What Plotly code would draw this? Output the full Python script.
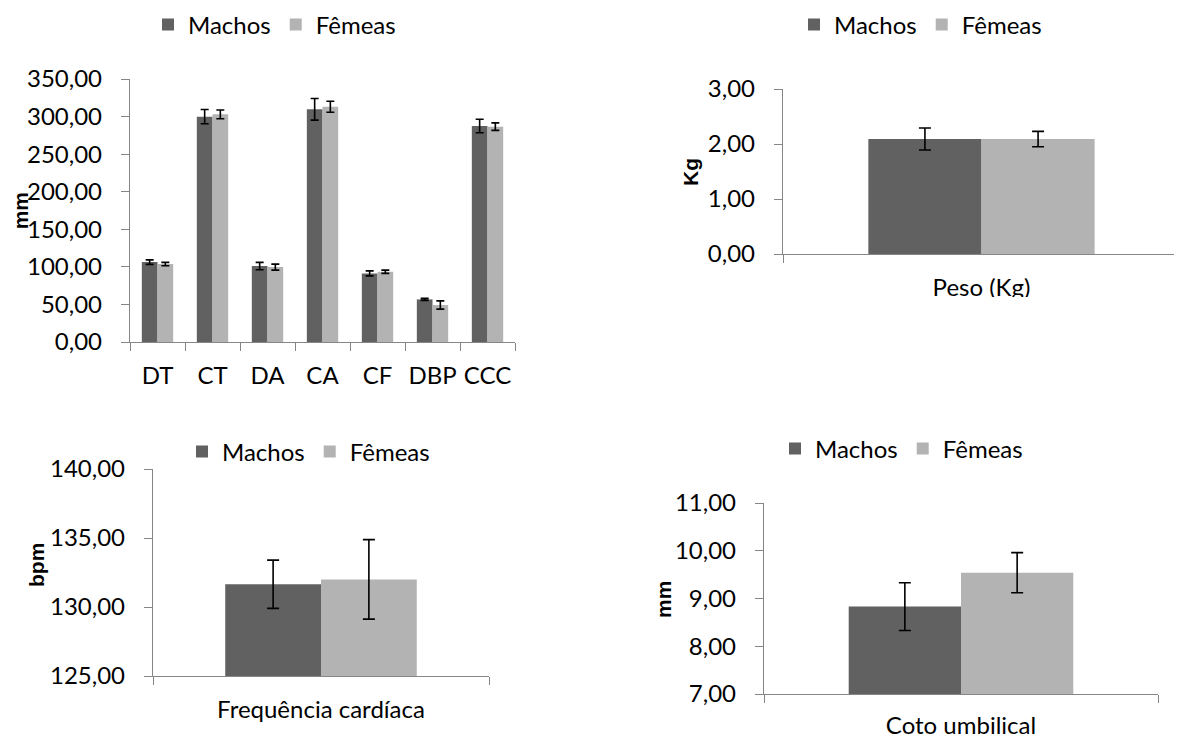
import plotly.graph_objects as go

# page body adds an 8px margin, so the figure is sized/placed to compensate
OFF = 8
W, H = 1182 - OFF, 739 - OFF

# ---------------- data ----------------
morph_cats = ["DT", "CT", "DA", "CA", "CF", "DBP", "CCC"]
morph_machos = [106.3, 299.9, 101.0, 309.7, 91.3, 56.7, 287.5]
morph_machos_err = [3.0, 9.5, 4.9, 14.4, 3.3, 1.3, 9.0]
morph_femeas = [103.7, 303.0, 99.7, 313.0, 93.5, 49.2, 286.6]
morph_femeas_err = [2.2, 5.8, 4.0, 7.3, 2.2, 5.5, 5.0]

peso_cats = ["Peso (Kg)"]
peso_machos = [2.09]
peso_machos_err = [0.20]
peso_femeas = [2.09]
peso_femeas_err = [0.14]

fc_cats = ["Frequência cardíaca"]
fc_machos = [131.65]
fc_machos_err = [1.75]
fc_femeas = [132.0]
fc_femeas_err = [2.88]

coto_cats = ["Coto umbilical"]
coto_machos = [8.83]
coto_machos_err = [0.50]
coto_femeas = [9.54]
coto_femeas_err = [0.42]

series_names = ["Machos", "Fêmeas"]
series_colors = ["#616161", "#b3b3b3"]

FONT = "Lato"
FS = 24
TITLE_FONT = "Liberation Sans"
TFS = 21
GRAY = "#868686"


def px_x(v):
    return (v - OFF) / W


def px_y(v):
    return 1 - (v - OFF) / H


fig = go.Figure()

charts = [
    (morph_cats, morph_machos, morph_machos_err, morph_femeas, morph_femeas_err,
     (130, 515), (342, 79), (0, 350), 50, "mm", (20.3, 211), 4, 12),
    (peso_cats, peso_machos, peso_machos_err, peso_femeas, peso_femeas_err,
     (783, 1180), (254, 89), (0, 3), 1, "Kg", (691, 172), 6, 12),
    (fc_cats, fc_machos, fc_machos_err, fc_femeas, fc_femeas_err,
     (153, 489), (676, 469), (125, 140), 5, "bpm", (36, 565), 6, 12),
    (coto_cats, coto_machos, coto_machos_err, coto_femeas, coto_femeas_err,
     (764, 1158), (694, 503), (7, 11), 1, "mm", (663, 600), 6, 10),
]

legend_pos = [(148, 25), (794, 25), (182, 452), (775, 449)]

annotations = []
for i, (cats, m, me, f, fe, xd, yd, yr, dt, ytitle, tpos, cap, xstand) in enumerate(charts):
    k = "" if i == 0 else str(i + 1)
    leg = "legend" if i == 0 else "legend" + str(i + 1)
    for name, vals, errs, col in [
        (series_names[0], m, me, series_colors[0]),
        (series_names[1], f, fe, series_colors[1]),
    ]:
        fig.add_trace(go.Bar(
            x=cats, y=vals, name=name,
            marker=dict(color=col, line=dict(width=0)),
            error_y=dict(type="data", array=errs, visible=True,
                         color="black", thickness=1.6, width=cap),
            xaxis="x" + k, yaxis="y" + k, legend=leg,
        ))
    fig.layout["xaxis" + k] = dict(
        domain=[px_x(xd[0]), min(px_x(xd[1]), 1)], anchor="y" + k,
        type="category", showline=True, linecolor=GRAY, linewidth=1.3,
        ticks="outside", tickson="boundaries", ticklen=8, tickcolor=GRAY,
        tickwidth=1.3, showgrid=False, zeroline=False, tickangle=0,
        ticklabelstandoff=xstand,
        tickfont=dict(family=FONT, size=FS, color="black"),
    )
    fig.layout["yaxis" + k] = dict(
        domain=[px_y(yd[0]), px_y(yd[1])], anchor="x" + k,
        range=list(yr), dtick=dt, tick0=yr[0], tickformat=".2f",
        showline=True, linecolor=GRAY, linewidth=1.3,
        ticks="outside", ticklen=8, tickcolor=GRAY, tickwidth=1.3,
        showgrid=False, zeroline=False, ticklabelstandoff=14,
        tickfont=dict(family=FONT, size=FS, color="black"),
    )
    lx, ly = legend_pos[i]
    fig.layout[leg] = dict(
        orientation="h", x=px_x(lx), y=px_y(ly), xanchor="left",
        yanchor="middle", font=dict(family=FONT, size=FS, color="black"),
        bgcolor="rgba(0,0,0,0)", itemclick=False, itemdoubleclick=False,
        traceorder="normal",
    )
    annotations.append(dict(
        text="<b>" + ytitle + "</b>", x=px_x(tpos[0]), y=px_y(tpos[1]),
        xref="paper", yref="paper", showarrow=False, textangle=-90,
        font=dict(family=TITLE_FONT, size=TFS, color="black"),
        xanchor="center", yanchor="middle", borderpad=0,
    ))

fig.update_layout(
    width=W, height=H,
    margin=dict(l=0, r=0, t=0, b=0, autoexpand=False),
    paper_bgcolor="white", plot_bgcolor="white",
    barmode="group", bargap=0.43, bargroupgap=0,
    separators=",.",
    annotations=annotations,
    shapes=[dict(type="rect", xref="paper", yref="paper", layer="above",
                 x0=px_x(860), x1=px_x(1110), y0=px_y(297), y1=px_y(312),
                 fillcolor="white", line=dict(width=0))],
)

fig.write_html("out.html")
